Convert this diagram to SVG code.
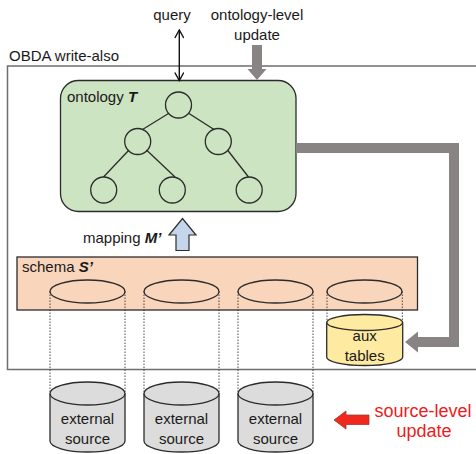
<svg xmlns="http://www.w3.org/2000/svg" width="476" height="454" viewBox="0 0 476 454">
  <style>
    text { font-family: "Liberation Sans", Arial, sans-serif; font-size: 15px; fill: #1a1a1a; }
    .mid { text-anchor: middle; }
    .red { fill: #ee1c1c; font-size: 18px; }
    .node { stroke: #2b2b2b; stroke-width: 1.3; }
    .tree { fill: none; stroke: #2b2b2b; stroke-width: 1.3; }
    .dot { stroke: #333; stroke-width: 0.9; stroke-dasharray: 1.5 1.5; fill: none; }
    .cyl { stroke: #2b2b2b; stroke-width: 1.3; }
  </style>
  <defs>
    <marker id="open" viewBox="0 0 10 10" refX="9" refY="5" markerWidth="10" markerHeight="10" markerUnits="userSpaceOnUse" orient="auto-start-reverse">
      <polyline points="1,0.5 9,5 1,9.5" fill="none" stroke="#111" stroke-width="1.4"/>
    </marker>
  </defs>

  <!-- system boundary -->
  <g id="obda">
    <rect x="7.5" y="66" width="480" height="303.5" fill="none" stroke="#6e6e6e" stroke-width="1.5"/>
    <text x="9" y="61">OBDA write-also</text>
  </g>

  <!-- ontology with its concept tree -->
  <g id="ontology">
    <rect x="60.5" y="80.5" width="235.5" height="131" rx="18" fill="#cde4c2" class="node"/>
    <text x="67" y="102">ontology <tspan font-weight="bold" font-style="italic">T</tspan></text>
    <g class="tree">
      <circle cx="178.5" cy="105" r="13"/>
      <circle cx="137.7" cy="141.5" r="13"/>
      <circle cx="218.3" cy="141.5" r="13"/>
      <circle cx="103.7" cy="190" r="13"/>
      <circle cx="172.3" cy="190" r="13"/>
      <circle cx="249.2" cy="190" r="13"/>
      <line x1="168.5" y1="113.5" x2="142.5" y2="129.5"/>
      <line x1="189" y1="113.5" x2="214" y2="129.5"/>
      <line x1="129" y1="150" x2="103.5" y2="177"/>
      <line x1="146.5" y1="150" x2="175" y2="177"/>
      <line x1="227.5" y1="150" x2="248.5" y2="177"/>
    </g>
  </g>

  <!-- relational schema -->
  <g id="schema">
    <rect x="17" y="257" width="400.5" height="53" fill="#f9d5bc" stroke="#2b2b2b" stroke-width="1.3"/>
    <text x="22" y="272">schema <tspan font-weight="bold" font-style="italic">S’</tspan></text>
    <ellipse cx="87.5" cy="291.5" rx="37.5" ry="11.5" fill="none" class="cyl"/>
    <ellipse cx="181.5" cy="291.5" rx="37.5" ry="11.5" fill="none" class="cyl"/>
    <ellipse cx="275.5" cy="291.5" rx="37.5" ry="11.5" fill="none" class="cyl"/>
    <ellipse cx="364.5" cy="291.5" rx="37.5" ry="11.5" fill="none" class="cyl"/>
  </g>

  <!-- auxiliary tables -->
  <g id="aux">
    <path d="M326.7,322.5 V357 A38,8.5 0 0 0 402.7,357 V322.5" fill="#feeaa0" class="cyl"/>
    <ellipse cx="364.7" cy="322.5" rx="38" ry="8" fill="#feeaa0" class="cyl"/>
    <text class="mid" x="364.7" y="341">aux</text>
    <text class="mid" x="364.7" y="361">tables</text>
  </g>

  <!-- external sources -->
  <g id="source1">
    <path d="M50,393.5 V441 A37.5,11 0 0 0 125,441 V393.5" fill="#dcdcdc" class="cyl"/>
    <ellipse cx="87.5" cy="393.5" rx="37.5" ry="11.5" fill="#dcdcdc" class="cyl"/>
    <text class="mid" x="87.5" y="424">external</text>
    <text class="mid" x="87.5" y="444">source</text>
  </g>
  <g id="source2">
    <path d="M144,393.5 V441 A37.5,11 0 0 0 219,441 V393.5" fill="#dcdcdc" class="cyl"/>
    <ellipse cx="181.5" cy="393.5" rx="37.5" ry="11.5" fill="#dcdcdc" class="cyl"/>
    <text class="mid" x="181.5" y="424">external</text>
    <text class="mid" x="181.5" y="444">source</text>
  </g>
  <g id="source3">
    <path d="M238,393.5 V441 A37.5,11 0 0 0 313,441 V393.5" fill="#dcdcdc" class="cyl"/>
    <ellipse cx="275.5" cy="393.5" rx="37.5" ry="11.5" fill="#dcdcdc" class="cyl"/>
    <text class="mid" x="275.5" y="424">external</text>
    <text class="mid" x="275.5" y="444">source</text>
  </g>

  <!-- labels outside the system -->
  <g id="labels">
    <text class="mid" x="172" y="20">query</text>
    <text class="mid" x="257" y="20">ontology-level</text>
    <text class="mid" x="257" y="40">update</text>
    <text x="83" y="243">mapping <tspan font-weight="bold" font-style="italic">M’</tspan></text>
    <text class="red mid" x="423" y="417">source-level</text>
    <text class="red mid" x="424" y="437">update</text>
  </g>

  <!-- connectors -->
  <g id="connectors">
    <!-- dotted links from schema tables to their stores -->
    <line class="dot" x1="50" y1="291.5" x2="50" y2="393.5"/>
    <line class="dot" x1="125" y1="291.5" x2="125" y2="393.5"/>
    <line class="dot" x1="144" y1="291.5" x2="144" y2="393.5"/>
    <line class="dot" x1="219" y1="291.5" x2="219" y2="393.5"/>
    <line class="dot" x1="238" y1="291.5" x2="238" y2="393.5"/>
    <line class="dot" x1="313" y1="291.5" x2="313" y2="393.5"/>
    <line class="dot" x1="327" y1="291.5" x2="327" y2="322.5"/>
    <line class="dot" x1="402.3" y1="291.5" x2="402.3" y2="322.5"/>

    <!-- query in and out -->
    <line x1="179.3" y1="30" x2="179.3" y2="80.5" stroke="#111" stroke-width="1.4" marker-start="url(#open)" marker-end="url(#open)"/>

    <!-- ontology-level update -->
    <polygon points="252,45 262,45 262,69 266.5,69 257,80 247.5,69 252,69" fill="#898484"/>

    <!-- update propagated to aux tables -->
    <polyline points="296,148 454,148 454,342 417,342" fill="none" stroke="#898484" stroke-width="10"/>
    <polygon points="405,342 418,331.5 418,352.5" fill="#898484"/>

    <!-- mapping -->
    <polygon points="176,250.5 189,250.5 189,235 196,235 182.5,218.5 169,235 176,235" fill="#c5d6ec" stroke="#2b2b2b" stroke-width="1.2"/>

    <!-- source-level update -->
    <polygon points="369,415 346,415 346,411 334,420 346,429 346,424.5 369,424.5" fill="#f0281e" stroke="#a03a30" stroke-width="0.8"/>
  </g>
</svg>
